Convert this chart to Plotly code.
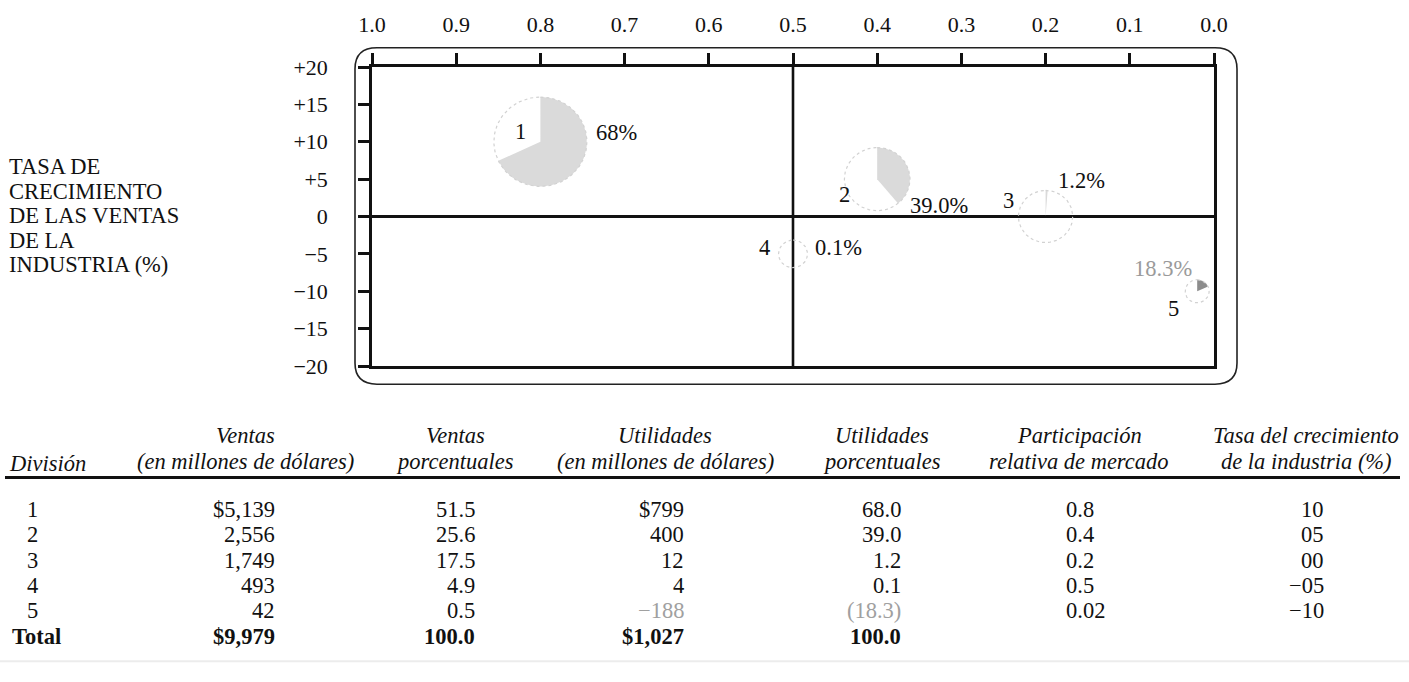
import math
import plotly.graph_objects as go

# ---- data -------------------------------------------------------------
divisions = ["1", "2", "3", "4", "5"]
sales = [5139, 2556, 1749, 493, 42]                 # millones de dólares
sales_pct = [51.5, 25.6, 17.5, 4.9, 0.5]
profits = [799, 400, 12, 4, -188]                   # millones de dólares
profit_pct = [68.0, 39.0, 1.2, 0.1, -18.3]
relative_share = [0.8, 0.4, 0.2, 0.5, 0.02]
industry_growth = [10, 5, 0, -5, -10]               # %
profit_labels = ["68%", "39.0%", "1.2%", "0.1%", "18.3%"]

total_sales = 9979
total_sales_pct = 100.0
total_profits = 1027
total_profit_pct = 100.0

x_ticks = [1.0, 0.9, 0.8, 0.7, 0.6, 0.5, 0.4, 0.3, 0.2, 0.1, 0.0]
x_tick_text = ["1.0", "0.9", "0.8", "0.7", "0.6", "0.5", "0.4", "0.3", "0.2", "0.1", "0.0"]
y_ticks = [20, 15, 10, 5, 0, -5, -10, -15, -20]
y_tick_text = ["+20", "+15", "+10", "+5", "0", "\u22125", "\u221210", "\u221215", "\u221220"]
share_split = 0.5
growth_split = 0

y_title_lines = ["TASA DE", "CRECIMIENTO", "DE LAS VENTAS", "DE LA", "INDUSTRIA (%)"]
table_headers = [
    ("Ventas", "(en millones de dólares)"),
    ("Ventas", "porcentuales"),
    ("Utilidades", "(en millones de dólares)"),
    ("Utilidades", "porcentuales"),
    ("Participación", "relativa de mercado"),
    ("Tasa del crecimiento", "de la industria (%)"),
]

# ---- layout geometry (pixels) -----------------------------------------
W, H = 1409, 682
L, R, T, B = 372, 195, 55, 316
PW, PH = W - L - R, H - T - B
X_RANGE = [1.0, 0.0]
Y_RANGE = [-20, 20]
px_per_x = PW / abs(X_RANGE[1] - X_RANGE[0])
px_per_y = PH / abs(Y_RANGE[1] - Y_RANGE[0])

FONT = "Liberation Serif, Times New Roman, serif"
FS = 22.5


def px(xp):
    return (xp - L) / PW


def py(yp):
    return (H - B - yp) / PH


fig = go.Figure()

# ---- bubbles: area ~ sales, shaded wedge = share of profits -----------
max_r = 46.5
min_r = 12.0
radii = [max(min_r, max_r * math.sqrt(s / max(sales))) for s in sales]


def arc_points(cx, cy, r, a0, a1, n=90):
    pts = []
    for k in range(n + 1):
        a = a0 + (a1 - a0) * k / n
        dx = r * math.sin(a)
        dy = r * math.cos(a)
        pts.append((cx - dx / px_per_x, cy + dy / px_per_y))
    return pts


for i in range(len(divisions)):
    cx, cy, r = relative_share[i], industry_growth[i], radii[i]
    frac = abs(profit_pct[i]) / 100.0
    wedge = [(cx, cy)] + arc_points(cx, cy, r, 0, 2 * math.pi * frac) + [(cx, cy)]
    fig.add_trace(go.Scatter(
        x=[p[0] for p in wedge], y=[p[1] for p in wedge],
        mode="lines", fill="toself",
        fillcolor="#8c8c8c" if profit_pct[i] < 0 else "#dadada",
        line=dict(width=0), hoverinfo="skip", showlegend=False,
    ))
    ring = arc_points(cx, cy, r, 0, 2 * math.pi, n=120)
    fig.add_trace(go.Scatter(
        x=[p[0] for p in ring], y=[p[1] for p in ring],
        mode="lines", line=dict(color="#d2d2d2", width=1.2, dash="dot"),
        hoverinfo="skip", showlegend=False,
    ))

# label offsets (pixels, right / up) around each bubble centre
div_offsets = [(-20, 10), (-33, -15), (-37, 16), (-29, 6), (-24, -17)]
pct_offsets = [(76, 9), (62, -26), (36, 36), (45, 6), (-34, 23)]

annotations = []
for i in range(len(divisions)):
    cx, cy = relative_share[i], industry_growth[i]
    annotations.append(dict(
        x=cx, y=cy, xref="x", yref="y", text=divisions[i], showarrow=False,
        xshift=div_offsets[i][0], yshift=div_offsets[i][1],
        font=dict(family=FONT, size=FS, color="#111"),
    ))
    annotations.append(dict(
        x=cx, y=cy, xref="x", yref="y", text=profit_labels[i], showarrow=False,
        xshift=pct_offsets[i][0], yshift=pct_offsets[i][1],
        font=dict(family=FONT, size=FS,
                  color="#9a9a9a" if profit_pct[i] < 0 else "#111"),
    ))

# ---- y-axis title block ------------------------------------------------
for k, line in enumerate(y_title_lines):
    annotations.append(dict(
        x=px(7), y=py(159 + k * 25.4), xref="paper", yref="paper",
        text=line, showarrow=False, xanchor="left", yanchor="middle",
        font=dict(family=FONT, size=FS, color="#111"),
    ))

# ---- table -------------------------------------------------------------
MINUS = "\u2212"


def fmt_int(v, dollar=False):
    s = f"{abs(v):,}"
    if dollar:
        s = "$" + s
    return (MINUS + s) if v < 0 else s


def fmt_pct(v):
    return f"({abs(v):.1f})" if v < 0 else f"{v:.1f}"


def fmt_growth(v):
    return (MINUS if v < 0 else "") + f"{abs(v):02d}"


header_centres = [245, 455, 665, 882, 1079, 1306]
HDR1_Y, HDR2_Y = 438, 465
for c, (h1, h2) in zip(header_centres, table_headers):
    for text, yy in ((h1, HDR1_Y), (h2, HDR2_Y)):
        annotations.append(dict(
            x=px(c), y=py(yy), xref="paper", yref="paper",
            text=f"<i>{text}</i>", showarrow=False, xanchor="center", yanchor="middle",
            font=dict(family=FONT, size=FS, color="#111"),
        ))
annotations.append(dict(
    x=px(7), y=py(HDR2_Y + 2), xref="paper", yref="paper", text="<i>División</i>",
    showarrow=False, xanchor="left", yanchor="middle",
    font=dict(family=FONT, size=FS, color="#111"),
))

ROW0, ROW_STEP = 515, 26.4
col_specs = [  # (pixel anchor, xanchor)
    (32, "center"), (277, "right"), (477, "right"), (686, "right"),
    (903, "right"), (1064, "left"), (1326, "right"),
]

rows = []
for i in range(len(divisions)):
    rows.append([
        (divisions[i], "#111"),
        (fmt_int(sales[i], dollar=(i == 0)), "#111"),
        (f"{sales_pct[i]:.1f}", "#111"),
        (fmt_int(profits[i], dollar=(i == 0)), "#a0a0a0" if profits[i] < 0 else "#111"),
        (fmt_pct(profit_pct[i]), "#a0a0a0" if profit_pct[i] < 0 else "#111"),
        (f"{relative_share[i]:g}", "#111"),
        (fmt_growth(industry_growth[i]), "#111"),
    ])

for i, row in enumerate(rows):
    yy = ROW0 + i * ROW_STEP
    for (xp_, anchor), (text, color) in zip(col_specs, row):
        annotations.append(dict(
            x=px(xp_), y=py(yy), xref="paper", yref="paper", text=text,
            showarrow=False, xanchor=anchor, yanchor="middle",
            font=dict(family=FONT, size=FS, color=color),
        ))

total_row = [
    "<b>Total</b>",
    f"<b>{fmt_int(total_sales, dollar=True)}</b>",
    f"<b>{total_sales_pct:.1f}</b>",
    f"<b>{fmt_int(total_profits, dollar=True)}</b>",
    f"<b>{total_profit_pct:.1f}</b>",
]
total_specs = [(10, "left")] + col_specs[1:5]
yy = ROW0 + len(divisions) * ROW_STEP
for (xp_, anchor), text in zip(total_specs, total_row):
    annotations.append(dict(
        x=px(xp_), y=py(yy), xref="paper", yref="paper", text=text,
        showarrow=False, xanchor=anchor, yanchor="middle",
        font=dict(family=FONT, size=FS, color="#111"),
    ))

# ---- shapes: quadrant split, rounded frame, table rules ---------------
shapes = [
    dict(type="line", xref="x", yref="y domain", x0=share_split, x1=share_split,
         y0=0, y1=1, line=dict(color="#111", width=2.6), layer="below"),
]


def rounded_rect(x0, y0, x1, y1, r):
    pts = [
        ("M", [(x0 + r, y0)]), ("L", [(x1 - r, y0)]), ("Q", [(x1, y0), (x1, y0 + r)]),
        ("L", [(x1, y1 - r)]), ("Q", [(x1, y1), (x1 - r, y1)]),
        ("L", [(x0 + r, y1)]), ("Q", [(x0, y1), (x0, y1 - r)]),
        ("L", [(x0, y0 + r)]), ("Q", [(x0, y0), (x0 + r, y0)]),
    ]
    out = []
    for cmd, ps in pts:
        out.append(cmd + " " + " ".join(f"{px(a):.5f},{py(b):.5f}" for a, b in ps))
    return " ".join(out) + " Z"


shapes.append(dict(type="path", xref="paper", yref="paper",
                   path=rounded_rect(355, 35, 1237, 385, 22),
                   line=dict(color="#222", width=1.6)))
shapes.append(dict(type="line", xref="paper", yref="paper",
                   x0=px(5), x1=px(1400), y0=py(482), y1=py(482),
                   line=dict(color="#111", width=3)))
shapes.append(dict(type="line", xref="paper", yref="paper",
                   x0=px(0), x1=px(1409), y0=py(673), y1=py(673),
                   line=dict(color="#ececec", width=2)))

# ---- axes ----------------------------------------------------------------
tick_font = dict(family=FONT, size=22, color="#111")
common = dict(showgrid=False, tickcolor="#111", tickwidth=2.6, ticklen=11)

fig.update_layout(
    width=W, height=H, autosize=False,
    margin=dict(l=L, r=R, t=T, b=B),
    paper_bgcolor="white", plot_bgcolor="white",
    showlegend=False, hovermode=False,
    xaxis=dict(range=X_RANGE, side="top", tickvals=x_ticks, ticktext=x_tick_text,
               ticks="outside", showline=True, linecolor="#111", linewidth=2.6,
               mirror=True, zeroline=False, tickfont=tick_font,
               ticklabelstandoff=12, fixedrange=True, **common),
    xaxis2=dict(range=X_RANGE, overlaying="x", anchor="y", side="top",
                tickvals=x_ticks, ticks="inside", showticklabels=False,
                showline=False, zeroline=False, fixedrange=True, **common),
    yaxis=dict(range=Y_RANGE, tickvals=y_ticks, ticktext=y_tick_text,
               ticks="outside", showline=True, linecolor="#111", linewidth=2.6,
               mirror=True, zeroline=True, zerolinecolor="#111", zerolinewidth=2.6,
               tickfont=tick_font, ticklabelstandoff=26, fixedrange=True, **common),
    yaxis2=dict(range=Y_RANGE, overlaying="y", anchor="x", side="left",
                tickvals=y_ticks, ticks="inside", showticklabels=False,
                showline=False, zeroline=False, fixedrange=True, **common),
    annotations=annotations,
    shapes=shapes,
)

fig.write_html("out.html", config={"displayModeBar": False})
